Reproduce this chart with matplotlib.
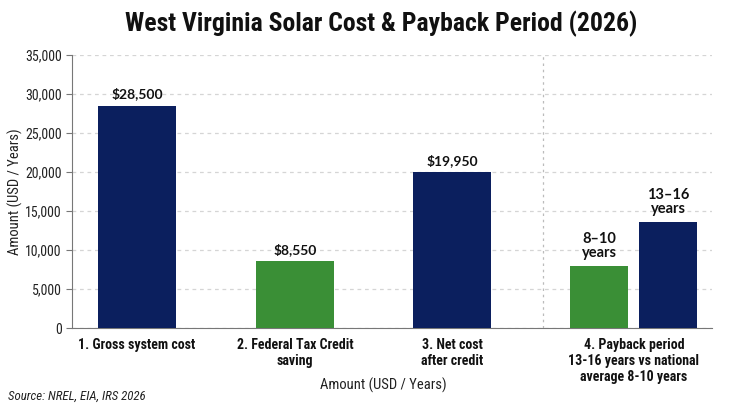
import matplotlib
matplotlib.use("Agg")
import matplotlib.pyplot as plt
from matplotlib.ticker import FuncFormatter

title = "West Virginia Solar Cost & Payback Period (2026)"
categories = ["1. Gross system cost", "2. Federal Tax Credit\nsaving", "3. Net cost\nafter credit",
              "4. Payback period\n13-16 years vs national\naverage 8-10 years"]
cost_values = [28500, 8550, 19950]
cost_labels = ["$28,500", "$8,550", "$19,950"]
cost_colors = ["navy", "green", "navy"]
payback_values = [8000, 13600]
payback_labels = ["8\u201310\nyears", "13\u201316\nyears"]
payback_colors = ["green", "navy"]
yticks = [0, 5000, 10000, 15000, 20000, 25000, 30000, 35000]
axis_label = "Amount (USD / Years)"
source = "Source: NREL, EIA, IRS 2026"

NAVY = "#0B1F5E"
GREEN = "#3A8F36"
cmap = {"navy": NAVY, "green": GREEN}

plt.rcParams['font.family'] = ['Roboto Condensed', 'Lato', 'DejaVu Sans']

fig = plt.figure(figsize=(7.3, 4.11), dpi=100)
ax = fig.add_axes([72/730, 1-328/411, 640/730, 273/411])

# positions in axis units (pixels from left axis edge)
cost_x = [65, 223, 380]
pay_x = [527, 596]
cost_w = 78
pay_w = 58

lab_font = ['Lato', 'DejaVu Sans']
bars = ax.bar(cost_x, cost_values, width=cost_w, color=[cmap[c] for c in cost_colors], zorder=3)
for b, lab in zip(bars, cost_labels):
    ax.text(b.get_x() + b.get_width()/2, b.get_height() + 700, lab, ha='center', va='bottom',
            fontsize=10, fontweight='bold', family=lab_font, color='#111111')
pbars = ax.bar(pay_x, payback_values, width=pay_w, color=[cmap[c] for c in payback_colors], zorder=3)
for b, lab in zip(pbars, payback_labels):
    ax.text(b.get_x() + b.get_width()/2, b.get_height() + 700, lab, ha='center', va='bottom',
            fontsize=10.5, fontweight='bold', family=lab_font, color='#111111',
            linespacing=1.05)

ax.set_xlim(0, 640)
ax.set_ylim(0, 35000)
ax.set_yticks(yticks)
ax.yaxis.set_major_formatter(FuncFormatter(lambda v, p: f"{int(v):,}"))
ax.tick_params(axis='y', labelsize=10, colors='#222222', length=4, color='#777777')
ax.set_xticks([65, 223, 380, 562])
ax.set_xticklabels(categories, fontsize=10, fontweight='bold', color='#111111', linespacing=1.2)
ax.tick_params(axis='x', length=0, pad=7)

ax.grid(axis='y', linestyle=(0, (3, 3)), color='#d5d5d5', linewidth=0.9, zorder=0)
ax.axvline(471, linestyle=(0, (2, 3)), color='#bbbbbb', linewidth=0.9, zorder=1)
for s in ['top', 'right']:
    ax.spines[s].set_visible(False)
ax.spines['left'].set_color('#777777')
ax.spines['bottom'].set_color('#777777')

ax.set_ylabel(axis_label, fontsize=10.5, color='#222222', labelpad=1)
fig.text(383/730, 1-385/411, axis_label, ha='center', va='center', fontsize=10.5, color='#222222')
fig.text(8/730, 1-396/411, source, ha='left', va='center', fontsize=9.3, style='italic', color='#222222')
fig.text(381/730, 1-24/411, title, ha='center', va='center', fontsize=18.5, fontweight='bold', color='#111111')

fig.savefig("out.png", dpi=100)
